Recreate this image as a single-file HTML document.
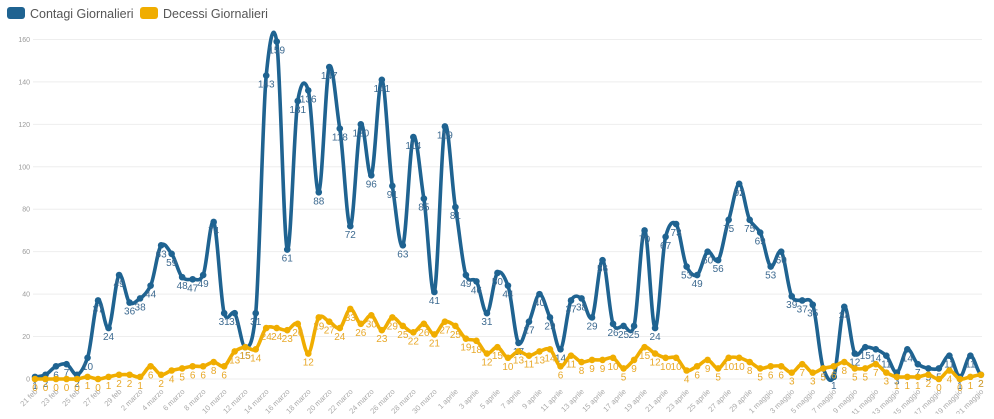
<!DOCTYPE html>
<html><head><meta charset="utf-8"><style>
body{margin:0;background:#fff;width:994px;height:414px;overflow:hidden;font-family:"Liberation Sans",sans-serif}
</style></head><body>
<svg id="c" width="994" height="414" xmlns="http://www.w3.org/2000/svg">
<rect x="7" y="7" width="18" height="12" rx="3" fill="#1f6391"/>
<text x="30" y="18" font-size="12.5" fill="#555">Contagi Giornalieri</text>
<rect x="140" y="7" width="18" height="12" rx="3" fill="#f0ad00"/>
<text x="163" y="18" font-size="12.5" fill="#555">Decessi Giornalieri</text>
</svg>
<script>
var B=[1,2,6,7,2,10,37,24,49,36,38,44,63,59,48,47,49,74,31,31,15,31,143,159,61,131,136,88,147,118,72,120,96,141,91,63,114,85,41,119,81,49,46,31,50,44,17,27,40,29,14,37,38,29,56,26,25,25,70,24,67,73,53,49,60,56,75,92,75,69,53,60,39,37,35,5,1,34,12,15,14,11,3,14,7,5,5,11,1,11,2];
var Y=[0,0,0,0,0,1,0,1,2,2,1,6,2,4,5,6,6,8,6,13,15,14,24,24,23,26,12,29,27,24,33,26,30,23,29,25,22,26,21,27,25,19,18,12,15,10,13,11,13,14,6,11,8,9,9,10,5,9,15,12,10,10,4,6,9,5,10,10,8,5,6,6,3,7,3,5,6,8,5,5,7,3,1,1,1,2,0,4,0,1,2];
var s=document.getElementById('c'),h='';
function X(i){return 35+i*10.51} function V(v){return 379-v*2.122}
for(var g=0;g<=8;g++){var y=V(g*20);h+='<line x1="33" x2="982" y1="'+y+'" y2="'+y+'" stroke="#eee"/><text x="30" y="'+(y+2.5)+'" font-size="7" fill="#999" text-anchor="end">'+(g*20)+'</text>';}
var m=['feb','marzo','aprile','maggio'];
for(var i=0;i<91;i+=2){var d,mo;if(i<9){d=21+i;mo=0}else if(i<40){d=i-8;mo=1}else if(i<70){d=i-39;mo=2}else{d=i-69;mo=3}
h+='<text transform="translate('+(X(i)+3)+',392) rotate(-45)" font-size="7.5" fill="#aaa" text-anchor="end">'+d+' '+m[mo]+'</text>';}
function path(a){var p='M'+X(0)+','+V(a[0]);for(var i=0;i<a.length-1;i++){var p0=a[Math.max(i-1,0)],p1=a[i],p2=a[i+1],p3=a[Math.min(i+2,a.length-1)];var t=0.13;
p+=' C'+(X(i)+10.51/3)+','+V(p1+(p2-p0)*t)+' '+(X(i+1)-10.51/3)+','+V(p2-(p3-p1)*t)+' '+X(i+1)+','+V(p2);}return p}
function ser(a,c,lc){h+='<path d="'+path(a)+'" fill="none" stroke="'+c+'" stroke-width="3.6" stroke-linejoin="round"/>';
for(var i=0;i<a.length;i++){h+='<circle cx="'+X(i)+'" cy="'+V(a[i])+'" r="3.3" fill="'+c+'"/>';h+='<text x="'+X(i)+'" y="'+(V(a[i])+12)+'" font-size="10" fill="'+lc+'" text-anchor="middle">'+a[i]+'</text>';}}
ser(B,'#1f6391','#3d6a90');ser(Y,'#f0ad00','#e8a92a');
s.insertAdjacentHTML('afterbegin',h);
</script>
</body></html>
